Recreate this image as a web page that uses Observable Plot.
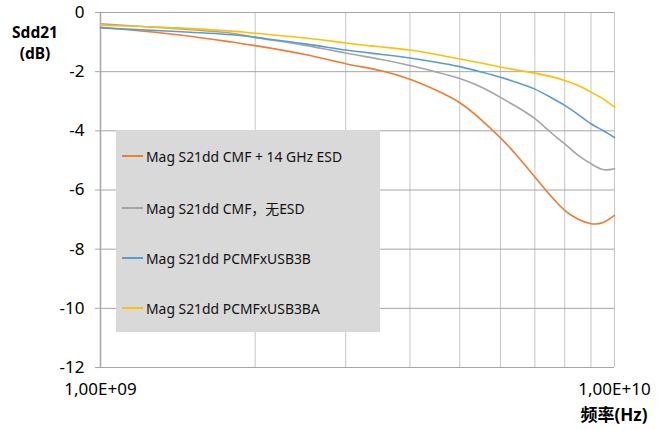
<!DOCTYPE html>
<html>
<head>
<meta charset="utf-8">
<script src="https://cdn.jsdelivr.net/npm/d3@7"></script>
<script src="https://cdn.jsdelivr.net/npm/@observablehq/plot@0.6"></script>
<style>
  html, body { margin: 0; padding: 0; background: #fff; }
  #wrap { position: relative; width: 662px; height: 430px; font-family: "Noto Sans", "Noto Sans CJK SC", sans-serif; color: #000; }
  #wrap svg { position: absolute; left: 0; top: 0; }
  .title { position: absolute; font-weight: bold; font-size: 15.5px; line-height: 20px; text-align: center; white-space: nowrap; }
  #legend { position: absolute; left: 116px; top: 130px; width: 264px; height: 202px; background: #d9d9d9; }
  .item { position: absolute; left: 6px; height: 18px; display: flex; align-items: center; font-size: 13.9px; color: #111; white-space: nowrap; }
  .swatch { width: 21px; height: 2px; margin-right: 3px; }
</style>
</head>
<body>
<div id="wrap"></div>
<script>
const freqGHz = [1, 1.41, 1.8, 2, 2.5, 3, 3.5, 4, 4.5, 5, 5.5, 6, 6.5, 7, 7.5, 8, 8.5, 9, 9.5, 10];
const seriesNames = ["Mag S21dd CMF + 14 GHz ESD", "Mag S21dd CMF，无ESD", "Mag S21dd PCMFxUSB3B", "Mag S21dd PCMFxUSB3BA"];
const seriesColors = ["#ED7D31", "#A5A5A5", "#5B9BD5", "#FFC000"];
const orangeVals = [-0.50, -0.75, -1.00, -1.12, -1.42, -1.73, -1.96, -2.26, -2.63, -3.05, -3.62, -4.24, -4.89, -5.56, -6.18, -6.69, -6.99, -7.14, -7.10, -6.86];
const grayVals   = [-0.38, -0.55, -0.70, -0.84, -1.11, -1.37, -1.58, -1.79, -2.01, -2.23, -2.52, -2.87, -3.22, -3.59, -4.04, -4.44, -4.83, -5.11, -5.31, -5.28];
const blueVals   = [-0.52, -0.64, -0.75, -0.84, -1.06, -1.27, -1.41, -1.54, -1.68, -1.83, -2.01, -2.19, -2.38, -2.59, -2.86, -3.14, -3.45, -3.76, -3.99, -4.23];
const yellowVals = [-0.43, -0.52, -0.63, -0.70, -0.86, -1.03, -1.16, -1.27, -1.42, -1.57, -1.71, -1.84, -1.95, -2.05, -2.16, -2.30, -2.47, -2.69, -2.92, -3.20];
const yTicks = [0, -2, -4, -6, -8, -10, -12];
const xGridGHz = [1, 2, 3, 4, 5, 6, 7, 8, 9, 10];
const xTickValues = [1e9, 1e10];
const xTickLabels = ["1,00E+09", "1,00E+10"];
const yTitle = ["Sdd21", "(dB)"];
const xTitle = "频率(Hz)";

const allVals = [orangeVals, grayVals, blueVals, yellowVals];
const rows = [];
allVals.forEach((vals, si) => vals.forEach((v, i) => rows.push({f: freqGHz[i] * 1e9, v, s: seriesNames[si]})));
const xLabelMap = new Map(xTickValues.map((d, i) => [d, xTickLabels[i]]));

const chart = Plot.plot({
  width: 662, height: 430,
  marginLeft: 100, marginRight: 48, marginTop: 12, marginBottom: 63,
  x: {type: "log", domain: [1e9, 1e10]},
  y: {domain: [-12, 0]},
  color: {domain: seriesNames, range: seriesColors},
  style: {fontFamily: "'Noto Sans', 'Noto Sans CJK SC', sans-serif", fontSize: "17px", color: "#000", background: "transparent", overflow: "visible"},
  marks: [
    Plot.ruleX(xGridGHz.map(d => d * 1e9), {stroke: "#c6c6c6", strokeWidth: 1}),
    Plot.ruleY(yTicks, {stroke: "#a6a6a6", strokeWidth: 1}),
    Plot.ruleX([1e9], {stroke: "#a6a6a6", strokeWidth: 1.5}),
    Plot.axisY(yTicks, {tickSize: 5, tickPadding: 11, stroke: "#a6a6a6", strokeOpacity: 1, fontSize: 17, tickFormat: d => String(d), label: null, fill: "#000"}),
    Plot.axisX(xTickValues, {tickSize: 0, tickPadding: 15, fontSize: 17, tickFormat: d => xLabelMap.get(d), label: null, fill: "#000"}),
    Plot.line(rows, {x: "f", y: "v", z: "s", stroke: "s", strokeWidth: 1.6, curve: "natural"})
  ]
});

const wrap = document.getElementById("wrap");
wrap.appendChild(chart);

const yTitleTops = [22, 43];
yTitle.forEach((t, i) => {
  const d = document.createElement("div");
  d.className = "title";
  d.style.left = "4px"; d.style.top = yTitleTops[i] + "px"; d.style.width = "62px";
  d.textContent = t;
  wrap.appendChild(d);
});

const xt = document.createElement("div");
xt.className = "title";
xt.style.left = "570px"; xt.style.top = "405px"; xt.style.width = "88px";
xt.style.fontSize = "17px";
xt.textContent = xTitle;
wrap.appendChild(xt);

const legend = document.createElement("div");
legend.id = "legend";
wrap.appendChild(legend);
const itemTops = [17, 69, 119, 169];
seriesNames.forEach((name, i) => {
  const it = document.createElement("div");
  it.className = "item";
  it.style.top = itemTops[i] + "px";
  const sw = document.createElement("span");
  sw.className = "swatch";
  sw.style.background = seriesColors[i];
  const tx = document.createElement("span");
  tx.textContent = name;
  it.appendChild(sw); it.appendChild(tx);
  legend.appendChild(it);
});
</script>
</body>
</html>
